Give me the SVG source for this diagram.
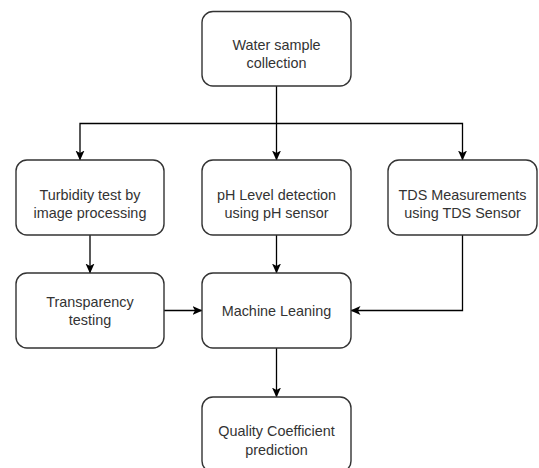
<svg xmlns="http://www.w3.org/2000/svg" width="539" height="468" viewBox="0 0 539 468">
  <defs>
    <marker id="arr" viewBox="0 0 10 10" refX="9.5" refY="5" markerWidth="10" markerHeight="10" markerUnits="userSpaceOnUse" orient="auto">
      <path d="M0,0.5 L10,5 L0,9.5 L2.5,5 z" fill="#000"/>
    </marker>
  </defs>
  <style>
    .box { fill: #ffffff; stroke: #333333; stroke-width: 1.4; }
    .lbl { font-family: "Liberation Sans", Arial, Helvetica, sans-serif; font-size: 14.4px; fill: #333333; text-anchor: middle; }
    .edge { fill: none; stroke: #000000; stroke-width: 1.3; marker-end: url(#arr); }
  </style>
  <rect width="539" height="468" fill="#ffffff"/>

  <g id="connectors">
    <path class="edge" d="M276.5,86 L276.5,160"/>
    <path class="edge" d="M276.5,123.5 L80,123.5 L80,160"/>
    <path class="edge" d="M276.5,123.5 L462.5,123.5 L462.5,160"/>
    <path class="edge" d="M90,235 L90,273"/>
    <path class="edge" d="M276.5,235 L276.5,273"/>
    <path class="edge" d="M164,310.5 L202,310.5"/>
    <path class="edge" d="M462.5,235 L462.5,310.5 L351,310.5"/>
    <path class="edge" d="M276.5,348 L276.5,397"/>
  </g>

  <g id="water">
    <rect class="box" x="202" y="11.5" width="149" height="74.5" rx="11"/>
    <text class="lbl" x="276.5" y="49.5">Water sample</text>
    <text class="lbl" x="276.5" y="68">collection</text>
  </g>

  <g id="turbidity">
    <rect class="box" x="16" y="160" width="148" height="75" rx="11"/>
    <text class="lbl" x="90" y="199.5">Turbidity test by</text>
    <text class="lbl" x="90" y="218">image processing</text>
  </g>

  <g id="ph">
    <rect class="box" x="202" y="160" width="149" height="75" rx="11"/>
    <text class="lbl" x="276.5" y="199.5">pH Level detection</text>
    <text class="lbl" x="276.5" y="218">using pH sensor</text>
  </g>

  <g id="tds">
    <rect class="box" x="388" y="160" width="149" height="75" rx="11"/>
    <text class="lbl" x="462.5" y="199.5">TDS Measurements</text>
    <text class="lbl" x="462.5" y="218">using TDS Sensor</text>
  </g>

  <g id="transparency">
    <rect class="box" x="16" y="273" width="148" height="75" rx="11"/>
    <text class="lbl" x="90" y="307">Transparency</text>
    <text class="lbl" x="90" y="325">testing</text>
  </g>

  <g id="ml">
    <rect class="box" x="202" y="273" width="149" height="75" rx="11"/>
    <text class="lbl" x="276.5" y="315.5">Machine Leaning</text>
  </g>

  <g id="quality">
    <rect class="box" x="202" y="397" width="149" height="75" rx="11"/>
    <text class="lbl" x="276.5" y="436">Quality Coefficient</text>
    <text class="lbl" x="276.5" y="454.5">prediction</text>
  </g>
</svg>
